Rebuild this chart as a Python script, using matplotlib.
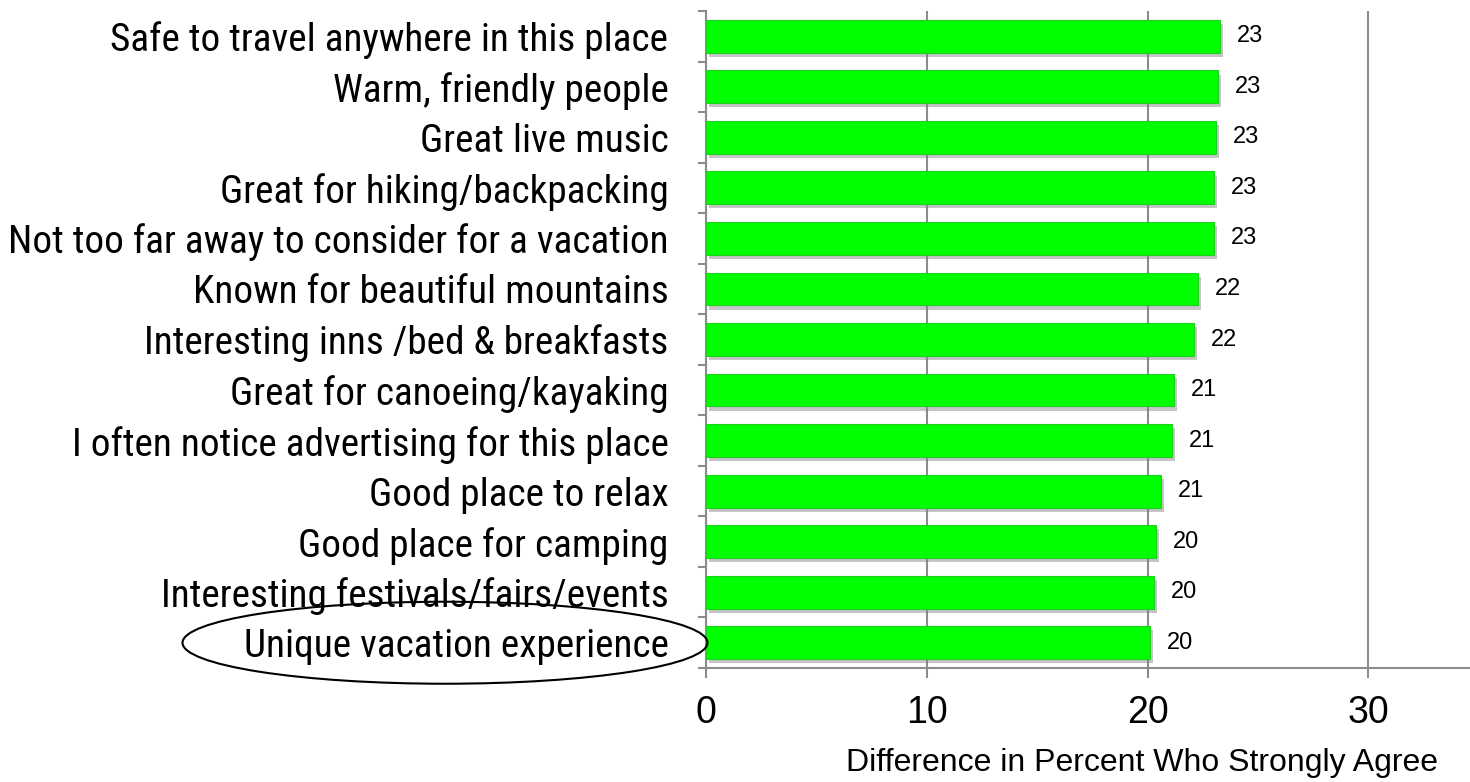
import matplotlib
matplotlib.use("Agg")
import matplotlib.pyplot as plt
import matplotlib.patheffects as pe
from matplotlib.patches import Ellipse
from matplotlib import font_manager

categories = [
    "Safe to travel anywhere in this place",
    "Warm, friendly people",
    "Great live music",
    "Great for hiking/backpacking",
    "Not too far away to consider for a vacation",
    "Known for beautiful mountains",
    "Interesting inns /bed & breakfasts",
    "Great for canoeing/kayaking",
    "I often notice advertising for this place",
    "Good place to relax",
    "Good place for camping",
    "Interesting festivals/fairs/events",
    "Unique vacation experience",
]
values = [23.3, 23.2, 23.1, 23.0, 23.0, 22.3, 22.1, 21.2, 21.1, 20.6, 20.4, 20.3, 20.1]
x_ticks = [0, 10, 20, 30]
x_label = "Difference in Percent Who Strongly Agree"
highlight = "Unique vacation experience"

installed = {f.name for f in font_manager.fontManager.ttflist}
narrow = next((f for f in ["Liberation Sans Narrow", "Arial Narrow", "Roboto Condensed",
                           "PT Sans Narrow"] if f in installed), "Liberation Sans")
regular = "Liberation Sans"

fig = plt.figure(figsize=(14.7, 7.82), dpi=100)
W, H = 1470, 782
ax = fig.add_axes([706 / W, 1 - 668 / H, (W - 706) / W, (668 - 11) / H])

n = len(categories)
ypos = list(range(n))
bars = ax.barh(ypos, values, height=0.65, color="#00ff00", edgecolor="#1fcf1f",
               linewidth=0.8, zorder=3)
for b in bars:
    b.set_path_effects([pe.SimplePatchShadow(offset=(2, -3), shadow_rgbFace="#808080", alpha=0.45),
                        pe.Normal()])

for y, v in zip(ypos, values):
    ax.text(v + 0.75, y, f"{v:.0f}", va="center", ha="left", fontsize=17,
            family=regular, color="black")

ax.set_ylim(n - 0.5, -0.5)
ax.set_xlim(0, 34.6)

grey = "#8c8c8c"
ax.set_xticks(x_ticks)
ax.set_xticklabels([str(t) for t in x_ticks], fontsize=27, family=regular)
ax.tick_params(axis="x", length=7, width=1.5, color=grey, pad=12.5)
ax.xaxis.grid(True, color=grey, linewidth=1.5, zorder=0)
ax.set_axisbelow(True)

ax.set_yticks(ypos)
ax.set_yticklabels(categories, fontsize=28.3, family=narrow)
ax.tick_params(axis="y", which="major", length=0, pad=27)
ax.set_yticks([i - 0.5 for i in range(n + 1)], minor=True)
ax.tick_params(axis="y", which="minor", length=6, width=1.5, color=grey)

for s in ["top", "right"]:
    ax.spines[s].set_visible(False)
for s in ["left", "bottom"]:
    ax.spines[s].set_color(grey)
    ax.spines[s].set_linewidth(1.5)

fig.text(1142 / W, 1 - 763 / H, x_label, ha="center", va="center", fontsize=23,
         family=regular)

# oval drawn round the highlighted category name
hi = categories.index(highlight)
ell_center = fig.transFigure.inverted().transform(
    (445, ax.transData.transform((0, hi))[1]))
ell = Ellipse((ell_center[0], ell_center[1]), width=525 / W, height=82 / H,
              transform=fig.transFigure, fill=False, edgecolor="black", linewidth=1.5,
              clip_on=False)
fig.add_artist(ell)

fig.savefig("out.png", dpi=100)
